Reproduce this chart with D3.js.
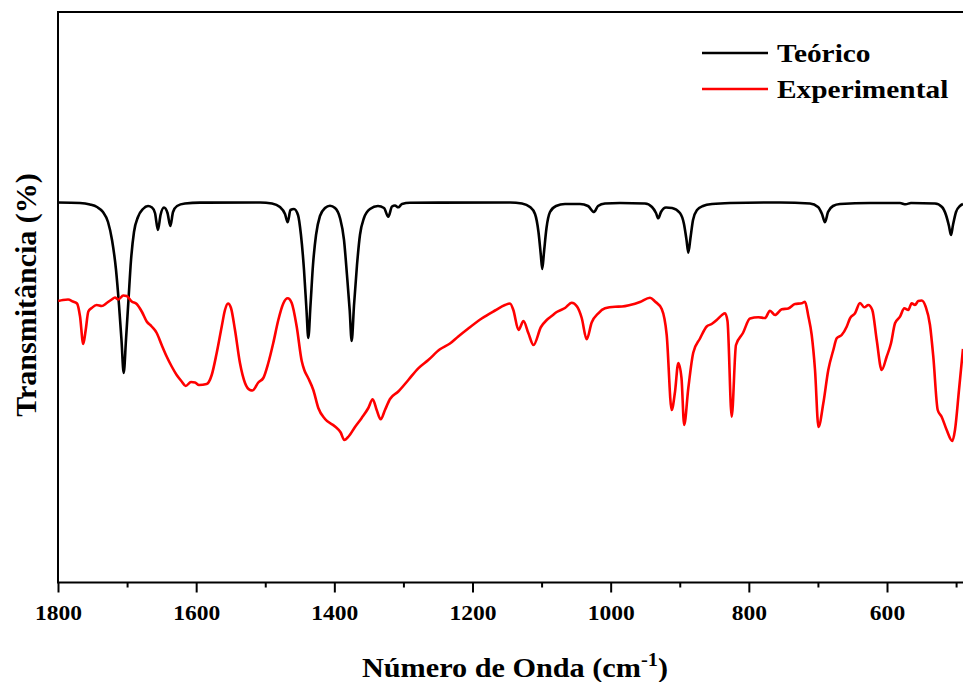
<!DOCTYPE html>
<html>
<head>
<meta charset="utf-8">
<script src="https://cdn.jsdelivr.net/npm/d3@7"></script>
<style>
  html, body { margin: 0; padding: 0; background: #fff; }
  svg { display: block; }
  text { font-family: "Liberation Serif", "Times New Roman", serif; font-weight: bold; fill: #000; }
</style>
</head>
<body>
<svg id="chart" width="963" height="682"></svg>
<script>
// Theoretical spectrum: wavenumber (cm-1) and transmittance
const teoricoWn = [1800, 1768.2, 1753.7, 1743.5, 1734.9, 1727.6, 1721.8, 1716.0, 1711.7, 1708.1, 1704.9, 1701.6, 1698.0, 1694.3, 1690.0, 1684.2, 1677.0, 1669.7, 1663.9, 1659.6, 1655.3, 1651.6, 1646.6, 1641.5, 1637.4, 1633.5, 1627.7, 1616.2, 1594.5, 1507.6, 1490.2, 1478.7, 1471.4, 1467.5, 1463.5, 1458.4, 1452.6, 1448.3, 1443.9, 1440.3, 1437.7, 1434.5, 1430.9, 1426.5, 1420.8, 1413.5, 1406.3, 1399.0, 1391.8, 1386.0, 1381.7, 1377.8, 1374.9, 1371.5, 1367.2, 1362.9, 1357.1, 1348.4, 1336.8, 1328.1, 1321.9, 1316.5, 1312.2, 1307.4, 1302.1, 1290.5, 1145.7, 1128.4, 1116.8, 1109.5, 1104.5, 1101.1, 1099.0, 1096.5, 1092.9, 1087.8, 1079.1, 1066.1, 1044.4, 1032.8, 1024.1, 1018.3, 1008.2, 986.5, 950.3, 940.2, 934.4, 931.1, 927.2, 919.9, 911.2, 899.7, 893.9, 890.2, 887.6, 884.5, 880.8, 875.0, 866.4, 853.3, 827.3, 754.9, 711.5, 699.9, 694.1, 689.8, 685.4, 678.2, 668.0, 624.6, 581.2, 573.0, 565.3, 530.5, 520.4, 514.6, 510.3, 507.4, 504.5, 500.1, 494.4, 490];
const teoricoT = [37.95, 37.9, 37.75, 37.5, 37.0, 36.0, 34.2, 31.2, 27.7, 24.2, 20.9, 24.2, 28.2, 32.2, 35.0, 36.5, 37.3, 37.6, 37.45, 36.9, 35.2, 36.7, 37.45, 36.9, 35.6, 37.0, 37.6, 37.85, 37.94, 37.95, 37.85, 37.5, 36.8, 35.97, 37.2, 37.3, 36.7, 34.7, 31.2, 27.2, 24.4, 27.7, 31.7, 34.7, 36.6, 37.4, 37.63, 37.4, 36.4, 34.2, 30.7, 27.2, 24.1, 27.7, 31.7, 34.7, 36.4, 37.3, 37.6, 37.4, 36.53, 37.55, 37.65, 37.47, 37.8, 37.92, 37.95, 37.85, 37.5, 36.8, 35.0, 32.7, 31.3, 33.0, 35.4, 37.0, 37.6, 37.8, 37.8, 37.6, 37.0, 37.6, 37.85, 37.9, 37.85, 37.5, 36.9, 36.37, 37.0, 37.45, 37.4, 36.9, 35.8, 34.2, 32.93, 34.4, 36.2, 37.2, 37.6, 37.8, 37.9, 37.95, 37.85, 37.5, 36.8, 35.97, 37.0, 37.6, 37.8, 37.9, 37.9, 37.77, 37.9, 37.85, 37.5, 36.7, 35.6, 34.7, 35.7, 37.0, 37.6, 37.8];

// Experimental spectrum: wavenumber (cm-1) and transmittance
const expWn = [1799.6, 1792.8, 1785.5, 1778.3, 1772.5, 1768.2, 1763.4, 1759.9, 1756.1, 1751.2, 1744.0, 1736.7, 1729.5, 1722.3, 1717.5, 1712.7, 1705.5, 1700.6, 1693.3, 1686.1, 1678.8, 1671.6, 1664.4, 1657.1, 1649.9, 1642.7, 1635.4, 1628.2, 1620.9, 1615.2, 1607.5, 1601.7, 1595.9, 1584.8, 1577.5, 1570.3, 1563.0, 1558.3, 1553.9, 1549.6, 1543.8, 1536.6, 1529.3, 1522.1, 1518.5, 1510.1, 1502.8, 1495.6, 1488.4, 1481.1, 1473.9, 1467.5, 1461.7, 1454.5, 1447.2, 1443.5, 1437.7, 1430.4, 1423.2, 1413.5, 1399.0, 1390.8, 1385.6, 1378.8, 1370.1, 1360.4, 1350.8, 1344.5, 1338.7, 1332.9, 1326.7, 1319.4, 1307.4, 1292.9, 1278.5, 1264.0, 1247.1, 1232.6, 1220.6, 1206.1, 1186.7, 1167.4, 1153.0, 1145.7, 1140.9, 1133.4, 1126.2, 1119.2, 1111.7, 1100.9, 1092.6, 1085.4, 1078.1, 1066.1, 1056.4, 1048.7, 1041.9, 1034.7, 1027.5, 1017.9, 1008.2, 993.7, 983.6, 972.0, 957.6, 943.1, 935.8, 926.1, 918.9, 911.7, 906.9, 902.1, 897.5, 893.6, 887.6, 880.4, 870.7, 861.0, 853.8, 846.5, 838.9, 834.5, 830.9, 824.8, 818.6, 808.5, 798.3, 786.3, 776.6, 769.4, 762.1, 752.4, 742.9, 733.2, 723.5, 718.7, 713.9, 709.0, 704.2, 699.2, 692.2, 685.0, 677.7, 672.8, 665.6, 658.4, 653.6, 646.3, 639.1, 632.9, 627.1, 621.3, 614.9, 607.7, 600.5, 594.2, 588.4, 581.2, 575.0, 569.2, 564.3, 559.5, 554.7, 549.8, 544.0, 537.8, 533.0, 526.6, 520.8, 513.6, 505.5, 501.6, 495.8, 490.0];
const expT = [28.1, 28.2, 28.25, 28.05, 27.85, 26.6, 23.8, 25.2, 27.05, 27.4, 27.7, 27.6, 27.9, 28.25, 28.45, 28.25, 28.65, 28.6, 28.05, 27.8, 27.05, 26.05, 25.55, 24.9, 23.7, 22.55, 21.55, 20.7, 20.05, 19.6, 20.0, 19.95, 19.7, 19.8, 20.7, 22.9, 25.55, 27.2, 27.85, 27.4, 25.2, 21.9, 19.9, 19.2, 19.15, 19.95, 20.4, 21.9, 23.9, 26.2, 27.85, 28.37, 27.9, 25.55, 22.1, 21.2, 20.37, 19.2, 17.4, 16.3, 15.55, 14.95, 14.2, 14.6, 15.5, 16.4, 17.4, 18.27, 17.2, 16.27, 17.2, 18.3, 19.05, 20.2, 21.37, 22.2, 23.27, 23.85, 24.55, 25.35, 26.35, 27.15, 27.7, 27.85, 27.2, 25.2, 26.1, 24.9, 23.7, 25.5, 26.2, 26.6, 27.0, 27.4, 27.93, 27.55, 26.4, 24.27, 25.95, 26.87, 27.37, 27.53, 27.55, 27.7, 28.0, 28.43, 28.05, 27.3, 24.7, 17.2, 19.0, 21.9, 20.4, 15.7, 19.4, 22.95, 24.35, 25.55, 25.8, 26.2, 26.7, 26.87, 26.1, 16.53, 23.7, 24.9, 26.35, 26.47, 26.4, 27.13, 26.7, 27.27, 27.35, 27.8, 27.87, 28.03, 26.6, 24.7, 21.2, 15.5, 17.87, 21.2, 23.2, 24.37, 24.7, 25.53, 26.37, 26.87, 27.9, 27.47, 27.7, 27.2, 24.2, 21.2, 22.53, 23.87, 25.87, 26.53, 27.37, 27.2, 27.87, 27.7, 28.1, 28.15, 27.53, 25.7, 22.53, 17.2, 16.5, 15.2, 14.1, 15.2, 19.2, 23.3];

// Axis ticks and labels
const majorTicks = [1800, 1600, 1400, 1200, 1000, 800, 600];
const minorTicks = [1700, 1500, 1300, 1100, 900, 700, 500];
const seriesNames = ["Teórico", "Experimental"];
const seriesColors = ["#000000", "#ff0000"];
const xTitle = "Número de Onda (cm";
const xTitleSup = "-1";
const yTitle = "Transmitância (%)";

const svg = d3.select("#chart");
const plotLeft = 58, plotRight = 963, plotTop = 12, plotBottom = 582;

const x = d3.scaleLinear().domain([1800, 490]).range([plotLeft, plotRight]);
const y = d3.scaleLinear().domain([0, 57]).range([plotBottom, plotTop]);

// Frame: left and top edges
svg.append("line").attr("x1", plotLeft).attr("x2", plotLeft).attr("y1", plotTop).attr("y2", plotBottom + 0.5)
  .attr("stroke", "#000").attr("stroke-width", 2);
svg.append("line").attr("x1", plotLeft - 1).attr("x2", plotRight).attr("y1", plotTop).attr("y2", plotTop)
  .attr("stroke", "#000").attr("stroke-width", 2);

// Bottom axis with major (labelled) and minor ticks
const axisMajor = d3.axisBottom(x).tickValues(majorTicks).tickSize(10).tickPadding(12).tickFormat(d3.format("d"));
const gx = svg.append("g").attr("transform", `translate(0,${plotBottom + 0.5})`).call(axisMajor);
gx.select(".domain").attr("stroke-width", 2).attr("d", `M${plotLeft - 1},0H${plotRight}`);
gx.selectAll(".tick line").attr("stroke-width", 2);
gx.selectAll(".tick text").attr("font-size", 22).attr("font-family", "Liberation Serif, Times New Roman, serif")
  .attr("font-weight", "bold").attr("fill", "#000").attr("transform", "scale(1.07,1)");

const axisMinor = d3.axisBottom(x).tickValues(minorTicks).tickSize(5).tickFormat("");
const gm = svg.append("g").attr("transform", `translate(0,${plotBottom + 0.5})`).call(axisMinor);
gm.select(".domain").remove();
gm.selectAll(".tick line").attr("stroke-width", 2);

// Spectra
const line = d3.line().x(d => x(d[0])).y(d => y(d[1])).curve(d3.curveMonotoneX);
const teorico = teoricoWn.map((w, i) => [w, teoricoT[i]]);
const experimental = expWn.map((w, i) => [w, expT[i]]);

svg.append("path").datum(teorico).attr("d", line)
  .attr("fill", "none").attr("stroke", seriesColors[0]).attr("stroke-width", 2.6).attr("stroke-linejoin", "round");
svg.append("path").datum(experimental).attr("d", line)
  .attr("fill", "none").attr("stroke", seriesColors[1]).attr("stroke-width", 2.6).attr("stroke-linejoin", "round");

// Axis titles
const xt = svg.append("text").attr("transform", "translate(515,677) scale(1.08,1)")
  .attr("text-anchor", "middle").attr("font-size", 28);
xt.append("tspan").text(xTitle);
xt.append("tspan").attr("dy", -11).attr("font-size", 19).text(xTitleSup);
xt.append("tspan").attr("dy", 11).text(")");

svg.append("text").attr("transform", "translate(36,295) rotate(-90)")
  .attr("text-anchor", "middle").attr("font-size", 30).text(yTitle);

// Legend
const legend = svg.append("g");
seriesNames.forEach((name, i) => {
  const ly = 53 + i * 36;
  legend.append("line").attr("x1", 702).attr("x2", 768).attr("y1", ly).attr("y2", ly)
    .attr("stroke", seriesColors[i]).attr("stroke-width", 2.6);
  legend.append("text").attr("transform", `translate(777,${ly + 9}) scale(1.13,1)`)
    .attr("font-size", 26).text(name);
});
</script>
</body>
</html>
